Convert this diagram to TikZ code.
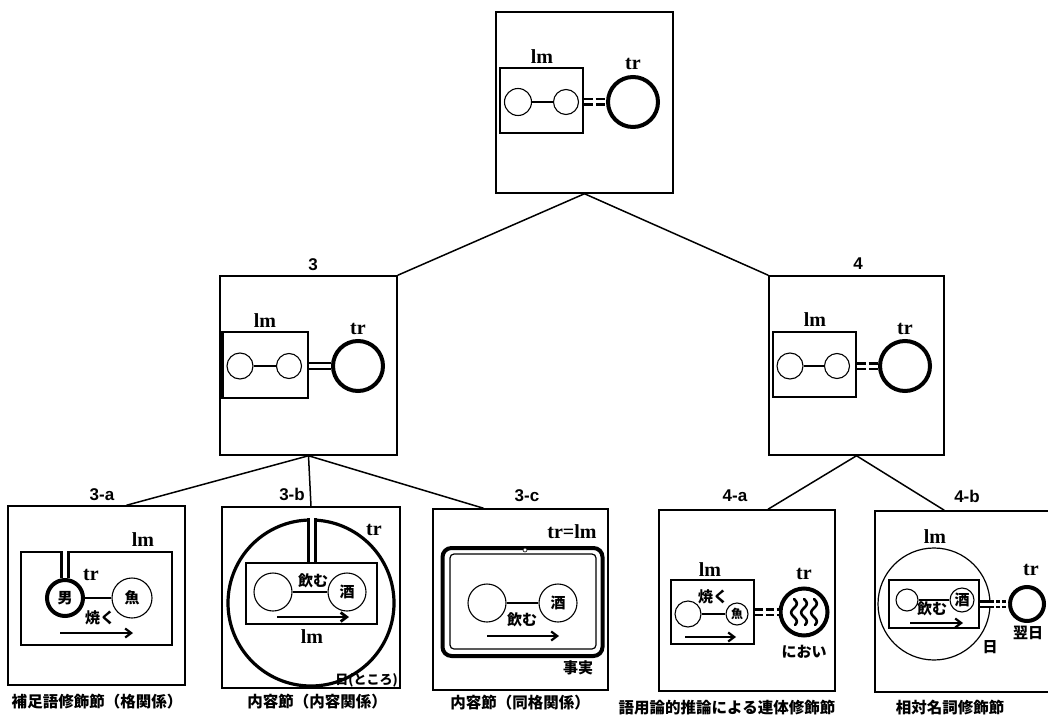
\documentclass[tikz,border=0pt]{standalone}
\usepackage{fontspec}
\setmainfont{Liberation Serif}
\newfontfamily\jpf{Noto Sans CJK JP}
\newfontfamily\sansf{Liberation Sans}
\usetikzlibrary{arrows.meta,calc}
\begin{document}
\begin{tikzpicture}[x=1pt,y=-1pt,
 frame/.style={draw,line width=1.5pt,inner sep=0pt},
 lmbox/.style={draw,line width=1.2pt,inner sep=0pt},
 sc/.style={circle,draw,line width=1.1pt,inner sep=0pt,minimum size=#1},
 trc/.style={circle,draw,line width=4pt,inner sep=0pt,minimum size=#1},
 lab/.style={font=\bfseries\fontsize{20}{20}\selectfont,inner sep=0pt},
 num/.style={font=\sansf\bfseries\fontsize{17}{17}\selectfont,inner sep=0pt},
 jt/.style={font=\jpf\bfseries\fontsize{15}{15}\selectfont,inner sep=0pt},
 captxt/.style={font=\jpf\bfseries\fontsize{15.5}{15.5}\selectfont,inner sep=0pt},
 conn/.style={line width=1.5pt},
 link/.style={line width=1.1pt},
 ddash/.style={line width=2.6pt,double distance=3pt,dash pattern=on 9pt off 3pt},
 dsol/.style={line width=2.4pt,double distance=3.5pt},
 vdbl/.style={line width=3pt,double distance=3.5pt},
 arr/.style={line width=2.2pt,-{Straight Barb[length=6pt,width=9pt]}}
]
\useasboundingbox (0,0) rectangle (1048,719);

% ---------- top ----------
\node[frame,minimum width=177,minimum height=181] (top) at (584.5,102.5) {};
\node[lmbox,minimum width=83,minimum height=65] (lmT) at (541.5,100.5) {};
\node[lab] (lmTl) at (542,57) {lm};
\node[sc=27] (aT) at (518,102) {};
\node[sc=25] (bT) at (566,102) {};
\draw[link] (aT) -- (bT);
\node[trc=50] (trT) at (633,102) {};
\node[lab] (trTl) at (633,64) {tr};
\draw[ddash] (lmT.east |- trT) -- (trT.west);

% ---------- box 3 ----------
\node[frame,minimum width=177,minimum height=179] (b3) at (308.5,365.5) {};
\node[num] (n3) at (313,265) {3};
\node[lmbox,minimum width=85,minimum height=66] (lm3) at (265.5,365) {};
\draw[line width=3pt] (lm3.north west) -- (lm3.south west);
\node[lab] (lm3l) at (265,321) {lm};
\node[sc=26] (a3) at (240,366) {};
\node[sc=25] (c3) at (289,366) {};
\draw[link] (a3) -- (c3);
\node[trc=50] (tr3) at (358,366) {};
\node[lab] (tr3l) at (358,329) {tr};
\draw[dsol] (lm3.east |- tr3) -- (tr3.west);

% ---------- box 4 ----------
\node[frame,minimum width=175,minimum height=179] (b4) at (856.5,365.5) {};
\node[num] (n4) at (858,264) {4};
\node[lmbox,minimum width=83,minimum height=65] (lm4) at (814.5,364.5) {};
\node[lab] (lm4l) at (815,320) {lm};
\node[sc=26] (a4) at (790,366) {};
\node[sc=25] (c4) at (837,366) {};
\draw[link] (a4) -- (c4);
\node[trc=50] (tr4) at (905,366) {};
\node[lab] (tr4l) at (905,329) {tr};
\draw[ddash] (lm4.east |- tr4) -- (tr4.west);

% ---------- 3-a ----------
\node[frame,minimum width=177,minimum height=179] (b3a) at (96.5,595.5) {};
\node[num] (n3a) at (102,495) {3-a};
\node[lmbox,minimum width=151,minimum height=93] (lm3a) at (96.5,598.5) {};
\node[lab] (lm3al) at (143,540) {lm};
\node[trc=36,line width=4pt,jt] (man) at (65,598) {男};
\node[sc=40,jt] (fish) at (132,598) {魚};
\draw[link] (man) -- (fish);
\node[lab] (tr3al) at (91,575) {tr};
\node[jt] (yaku) at (100,618) {焼く};
\coordinate (ar3aS) at (60,633);
\coordinate (ar3aE) at (133,633);
\draw[arr] (ar3aS) -- (ar3aE);
\draw[vdbl] (man.north |- lm3a.north) -- (man.north);
\node[captxt] (cap3a) at (97,702) {補足語修飾節（格関係）};

% ---------- 3-b ----------
\node[frame,minimum width=178,minimum height=181] (b3b) at (311,597.5) {};
\node[num] (n3b) at (292,494) {3-b};
\node[circle,draw,line width=3.2pt,inner sep=0pt,minimum size=166] (big3b) at (311,603) {};
\node[lmbox,minimum width=131,minimum height=61] (lm3b) at (311.5,593.5) {};
\node[sc=38] (a3b) at (273,592) {};
\node[sc=38,jt] (sake3b) at (347,592) {酒};
\draw[link] (a3b) -- (sake3b);
\node[jt] (nomu3b) at (313,581) {飲む};
\coordinate (ar3bS) at (277,617);
\coordinate (ar3bE) at (349,617);
\draw[arr,line width=2.8pt] (ar3bS) -- (ar3bE);
\node[lab] (lm3bl) at (312,637) {lm};
\node[lab] (tr3bl) at (374,530) {tr};
\draw[vdbl,double distance=4pt] (lm3b.north |- big3b.north) -- (lm3b.north);
\node[jt,font=\jpf\bfseries\fontsize{13}{13}\selectfont,anchor=south east] (tokoro) at (398,687) {日(ところ)};
\node[captxt] (cap3b) at (317,702) {内容節（内容関係）};

% ---------- 3-c ----------
\node[frame,minimum width=175,minimum height=181] (b3c) at (520.5,599.5) {};
\node[num] (n3c) at (527,496) {3-c};
\node[draw,line width=4pt,rounded corners=9pt,minimum width=160,minimum height=108,inner sep=0pt] (out3c) at (522.5,602) {};
\node[draw,line width=1.2pt,rounded corners=4pt,minimum width=146,minimum height=95,inner sep=0pt] (in3c) at (523,601.5) {};
\node[circle,fill=white,draw,line width=0.6pt,inner sep=0pt,minimum size=4] (gap3c) at (525,550) {};
\node[sc=38] (a3c) at (487,603) {};
\node[sc=38,jt] (sake3c) at (558,603) {酒};
\draw[link] (a3c) -- (sake3c);
\node[jt] (nomu3c) at (522,620) {飲む};
\coordinate (ar3cS) at (487,636);
\coordinate (ar3cE) at (559,636);
\draw[arr] (ar3cS) -- (ar3cE);
\node[lab] (trlm) at (572,532) {tr=lm};
\node[jt] (jijitsu) at (578,668) {事実};
\node[captxt] (cap3c) at (520,703) {内容節（同格関係）};

% ---------- 4-a ----------
\node[frame,minimum width=176,minimum height=181] (b4a) at (747,600.5) {};
\node[num] (n4a) at (735,496) {4-a};
\node[lmbox,minimum width=83,minimum height=64] (lm4a) at (712.5,612) {};
\node[lab] (lm4al) at (710,570) {lm};
\node[sc=26] (a4a) at (688,614) {};
\node[sc=22,font=\jpf\bfseries\fontsize{12}{12}\selectfont] (fish4a) at (737,614) {魚};
\draw[link] (a4a) -- (fish4a);
\node[jt] (yaku4a) at (713,597) {焼く};
\coordinate (ar4aS) at (685,637);
\coordinate (ar4aE) at (736,637);
\draw[arr] (ar4aS) -- (ar4aE);
\node[trc=47] (tr4a) at (804,612) {};
\node[lab] (tr4al) at (804,574) {tr};
\draw[ddash,dash pattern=on 8pt off 3pt] (lm4a.east |- tr4a) -- (tr4a.west);
\foreach \dx in {-10,0,10} {
  \draw[line width=2.6pt,line cap=round] plot[smooth,domain=0:26,samples=27] ({804+\dx+2.8*sin(\x*20)},{599+\x});
}
\node[jt] (nioi) at (804,652) {におい};
\node[captxt] (cap4a) at (727,708) {語用論的推論による連体修飾節};

% ---------- 4-b ----------
\node[frame,minimum width=177,minimum height=181] (b4b) at (963.5,601.5) {};
\node[num] (n4b) at (967,496) {4-b};
\node[circle,draw,line width=1.2pt,inner sep=0pt,minimum size=112] (big4b) at (934,604) {};
\node[lab] (lm4bl) at (935,537) {lm};
\node[lmbox,minimum width=90,minimum height=48] (lm4b) at (934,604) {};
\node[sc=22] (a4b) at (907,600) {};
\node[sc=24,jt] (sake4b) at (962,600) {酒};
\draw[link] (a4b) -- (sake4b);
\node[jt] (nomu4b) at (932,609) {飲む};
\coordinate (ar4bS) at (910,623);
\coordinate (ar4bE) at (963,623);
\draw[arr] (ar4bS) -- (ar4bE);
\node[trc=34] (tr4b) at (1027,604) {};
\node[lab] (tr4bl) at (1031,570) {tr};
\node[jt] (yokujitsu) at (1028,633) {翌日};
\node[jt] (hi4b) at (990,647) {日};
\coordinate (m4b) at (990,604);
\draw[dsol,line width=2.2pt,double distance=3pt] (lm4b.east |- tr4b) -- (m4b);
\draw[ddash,line width=2.2pt,double distance=3pt,dash pattern=on 4pt off 2pt] (m4b) -- (tr4b.west);
\node[captxt] (cap4b) at (950,708) {相対名詞修飾節};

% ---------- connectors ----------
\draw[conn] (top.south) -- (b3.north east);
\draw[conn] (top.south) -- (b4.north west);
\draw[conn] (b3.south) -- ([xshift=30pt]b3a.north);
\draw[conn] (b3.south) -- (b3b.north);
\draw[conn] (b3.south) -- ([xshift=-37pt]b3c.north);
\draw[conn] (b4.south) -- ([xshift=21pt]b4a.north);
\draw[conn] (b4.south) -- ([xshift=70pt]b4b.north west);
\end{tikzpicture}
\end{document}
